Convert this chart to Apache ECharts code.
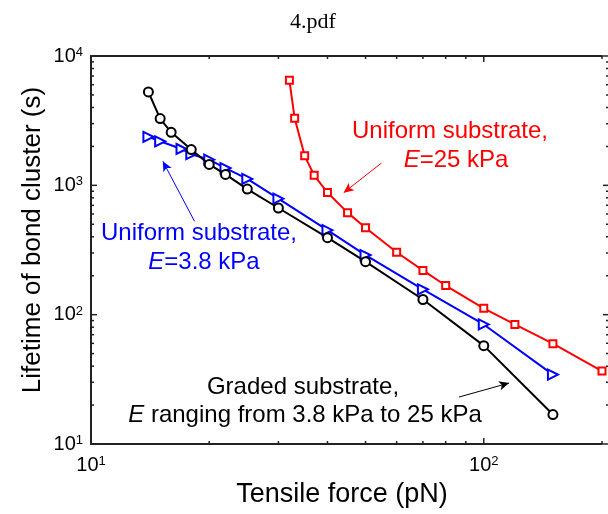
<!DOCTYPE html>
<html>
<head>
<meta charset="utf-8">
<script src="https://cdn.jsdelivr.net/npm/echarts@6/dist/echarts.min.js"></script>
<style>
  html, body { margin: 0; padding: 0; background: #fff; }
  #chart { width: 608px; height: 514px; }
</style>
</head>
<body>
<div id="chart"></div>
<script>
// Graded substrate, E from 3.8 kPa to 25 kPa
const forceGraded = [14, 15, 16, 18, 20, 22, 25, 30, 40, 50, 70, 100, 150];
const lifeGraded  = [5270, 3280, 2570, 1890, 1450, 1215, 935, 668, 394, 257, 131, 57.6, 16.9];

// Uniform substrate, E = 3.8 kPa
const forceSoft = [14, 15, 17, 18, 20, 22, 25, 30, 40, 50, 70, 100, 150];
const lifeSoft  = [2370, 2190, 1910, 1740, 1580, 1360, 1120, 789, 450, 289, 157, 84, 34.4];

// Uniform substrate, E = 25 kPa
const forceStiff = [32, 33, 35, 37, 40, 45, 50, 60, 70, 80, 100, 120, 150, 200];
const lifeStiff  = [6490, 3300, 1690, 1195, 880, 615, 470, 304, 220, 168, 112, 84, 59.7, 36.6];

// Tick positions on the log axes
const xMajorTicks = [10, 100];
const xMinorTicks = [20, 30, 40, 50, 60, 70, 80, 90, 200];
const yMajorTicks = [10, 100, 1000, 10000];
const yMinorTicks = [20, 30, 40, 50, 60, 70, 80, 90,
                     200, 300, 400, 500, 600, 700, 800, 900,
                     2000, 3000, 4000, 5000, 6000, 7000, 8000, 9000];

// Annotation arrows, [tail, head] in data units (force, lifetime)
const arrowSoft   = [[18.35, 527], [15.24, 1533]];
const arrowStiff  = [[54.9, 1488], [44.0, 878]];
const arrowGraded = [[86.5, 23.07], [116, 29.6]];

const AXIS = '#222';
const SANS = 'Liberation Sans, Arial, sans-serif';
const MAJOR_LEN = 6, MINOR_LEN = 3;

const pairs = (xs, ys) => xs.map((x, i) => [x, ys[i]]);

function powLabel(v) {
  const e = Math.round(Math.log10(v));
  if (Math.abs(Math.log10(v) - e) > 1e-6) return '';
  return '{b|10}{s|' + e + '}';
}
const powRich = {
  b: { fontSize: 20, fontFamily: SANS, color: '#000', lineHeight: 20 },
  s: { fontSize: 13, fontFamily: SANS, color: '#000', verticalAlign: 'top', lineHeight: 20 }
};

const xTickData = xMajorTicks.map(v => [v, 10, MAJOR_LEN])
  .concat(xMinorTicks.map(v => [v, 10, MINOR_LEN]));
const yTickData = yMajorTicks.map(v => [10, v, MAJOR_LEN])
  .concat(yMinorTicks.map(v => [10, v, MINOR_LEN]));

const tickStyle = { stroke: AXIS, lineWidth: 1.5 };

function arrowLine(seg, color) {
  return {
    silent: true,
    symbol: ['none', 'arrow'],
    symbolSize: [7, 10],
    label: { show: false },
    lineStyle: { color: color, width: 1, type: 'solid' },
    data: [[{ coord: seg[0] }, { coord: seg[1] }]]
  };
}

function textEl(str, x, y, color, size, italicE) {
  const base = { fontSize: size, fontFamily: SANS, fill: color };
  const rich = {
    i: { fontSize: size, fontFamily: SANS, fill: color, fontStyle: 'italic' },
    r: { fontSize: size, fontFamily: SANS, fill: color }
  };
  return {
    type: 'text', x: x, y: y, silent: true,
    style: Object.assign({}, base, {
      text: italicE ? '{i|E}{r|' + str + '}' : str,
      rich: rich, align: 'center', verticalAlign: 'middle'
    })
  };
}

const chart = echarts.init(document.getElementById('chart'), null, { renderer: 'canvas' });

chart.setOption({
  animation: false,
  backgroundColor: '#fff',
  grid: { left: 91, top: 56, right: 6, bottom: 70, containLabel: false },
  xAxis: [
    {
      type: 'log', logBase: 10, min: 10, max: 200,
      axisLine: { show: true, lineStyle: { color: AXIS, width: 2 } },
      axisTick: { show: false },
      splitLine: { show: false },
      axisLabel: { margin: 11, formatter: powLabel, rich: powRich }
    },
    {
      type: 'log', logBase: 10, min: 10, max: 200, position: 'top',
      axisLine: { show: true, onZero: false, lineStyle: { color: AXIS, width: 2 } },
      axisTick: { show: false },
      splitLine: { show: false },
      axisLabel: { show: false }
    }
  ],
  yAxis: {
    type: 'log', logBase: 10, min: 10, max: 10000,
    axisLine: { show: true, lineStyle: { color: AXIS, width: 2 } },
    axisTick: { show: false },
    splitLine: { show: false },
    axisLabel: { margin: 8, formatter: powLabel, rich: powRich }
  },
  series: [
    {
      name: 'E=3.8 kPa', type: 'line', data: pairs(forceSoft, lifeSoft),
      symbol: 'emptyTriangle', symbolSize: 10, symbolRotate: -90,
      itemStyle: { color: '#0000ff', borderWidth: 1.6 },
      lineStyle: { color: '#0000ff', width: 2 },
      markLine: arrowLine(arrowSoft, '#0000ff'),
      z: 3
    },
    {
      name: 'Graded', type: 'line', data: pairs(forceGraded, lifeGraded),
      symbol: 'emptyCircle', symbolSize: 9,
      itemStyle: { color: '#000000', borderWidth: 1.6 },
      lineStyle: { color: '#000000', width: 2 },
      markLine: arrowLine(arrowGraded, '#000000'),
      z: 4
    },
    {
      name: 'E=25 kPa', type: 'line', data: pairs(forceStiff, lifeStiff),
      symbol: 'emptyRect', symbolSize: 7,
      itemStyle: { color: '#ff0000', borderWidth: 1.6 },
      lineStyle: { color: '#ff0000', width: 2 },
      markLine: arrowLine(arrowStiff, '#ff0000'),
      z: 5
    },
    {
      // ticks along the bottom and top edges
      type: 'custom', silent: true, clip: false, z: 10,
      data: xTickData,
      renderItem: (params, api) => {
        const cs = params.coordSys;
        const px = api.coord([api.value(0), 10])[0];
        const len = api.value(2);
        const yb = cs.y + cs.height, yt = cs.y;
        return {
          type: 'group',
          children: [
            { type: 'line', shape: { x1: px, y1: yb, x2: px, y2: yb - len }, style: tickStyle },
            { type: 'line', shape: { x1: px, y1: yt, x2: px, y2: yt + len }, style: tickStyle }
          ]
        };
      }
    },
    {
      // ticks along the left and right edges
      type: 'custom', silent: true, clip: false, z: 10,
      data: yTickData,
      renderItem: (params, api) => {
        const cs = params.coordSys;
        const py = api.coord([10, api.value(1)])[1];
        const len = api.value(2);
        const xl = cs.x, xr = cs.x + cs.width + 7;
        return {
          type: 'group',
          children: [
            { type: 'line', shape: { x1: xl, y1: py, x2: xl + len, y2: py }, style: tickStyle },
            { type: 'line', shape: { x1: xr, y1: py, x2: xr - len, y2: py }, style: tickStyle }
          ]
        };
      }
    }
  ],
  graphic: [
    {
      type: 'text', x: 313, y: 22, silent: true,
      style: { text: '4.pdf', fontSize: 22, fontFamily: 'Liberation Serif, Times New Roman, serif',
               fill: '#000', align: 'center', verticalAlign: 'middle' }
    },
    {
      type: 'text', x: 342, y: 495, silent: true,
      style: { text: 'Tensile force (pN)', fontSize: 27, fontFamily: SANS,
               fill: '#000', align: 'center', verticalAlign: 'middle' }
    },
    {
      type: 'text', x: 33, y: 240, rotation: Math.PI / 2, silent: true,
      style: { text: 'Lifetime of bond cluster (s)', fontSize: 26, fontFamily: SANS,
               fill: '#000', align: 'center', verticalAlign: 'middle' }
    },
    textEl('Uniform substrate,', 450, 131, '#ff0000', 24, false),
    textEl('=25 kPa', 456, 160, '#ff0000', 24, true),
    textEl('Uniform substrate,', 199, 233, '#0000ff', 24, false),
    textEl('=3.8 kPa', 204, 262, '#0000ff', 24, true),
    textEl('Graded substrate,', 303, 387, '#000000', 24, false),
    textEl(' ranging from 3.8 kPa to 25 kPa', 305, 415, '#000000', 24, true)
  ]
});
</script>
</body>
</html>
